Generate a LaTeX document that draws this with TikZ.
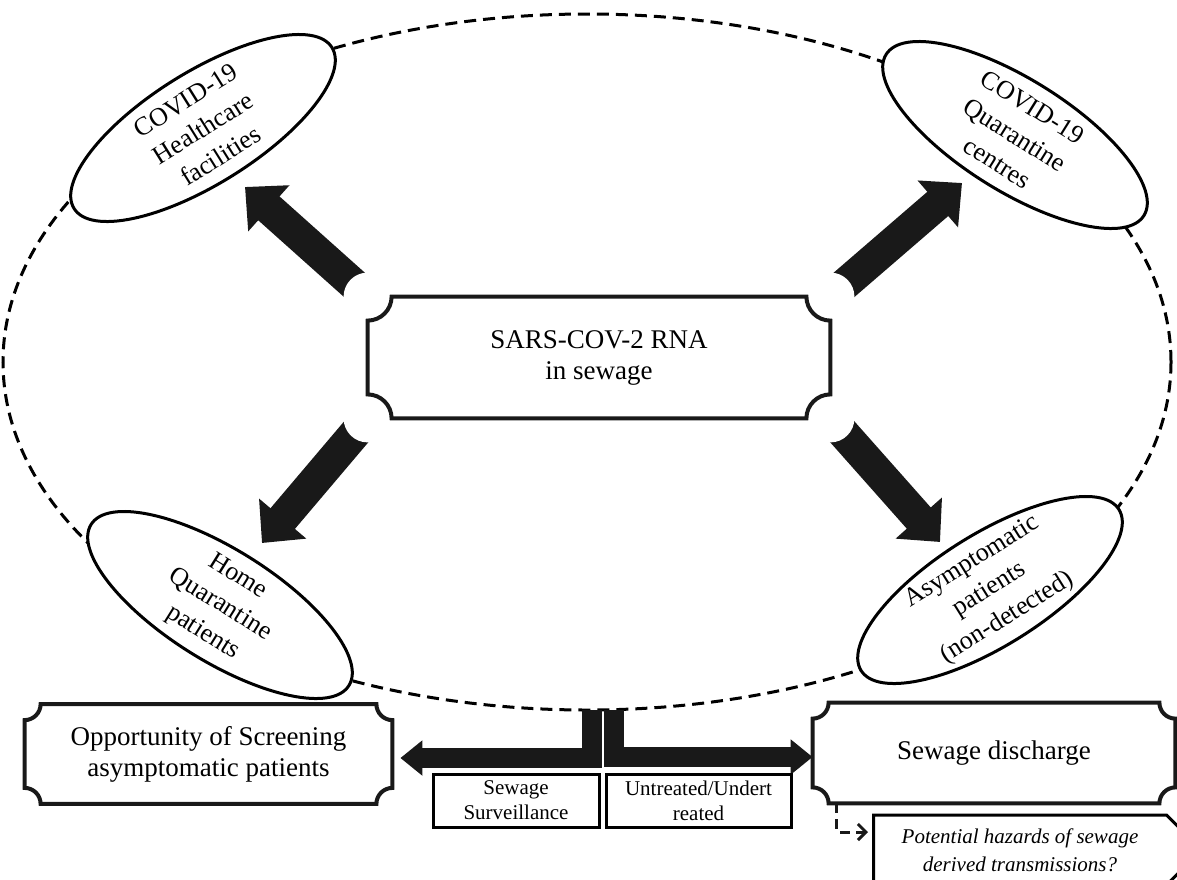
\documentclass[tikz,border=0pt]{standalone}
\usepackage{fontspec}
\setmainfont{Liberation Serif}
\usetikzlibrary{arrows.meta,calc,positioning,shapes.geometric,shapes.symbols}

% rectangle outline with scooped (concave) corners round a named node
\newcommand{\scoopframe}[2]{%
  \draw[line width=2pt, black!90]
    ($(#1.north west)+(#2,0pt)$) -- ($(#1.north east)+(-#2,0pt)$)
    arc[start angle=180, end angle=270, radius=#2]
    -- ($(#1.south east)+(0pt,#2)$)
    arc[start angle=90, end angle=180, radius=#2]
    -- ($(#1.south west)+(#2,0pt)$)
    arc[start angle=0, end angle=90, radius=#2]
    -- ($(#1.north west)+(0pt,-#2)$)
    arc[start angle=270, end angle=360, radius=#2] -- cycle;}

\begin{document}
\begin{tikzpicture}[x=0.5pt,y=-0.5pt]
	\tikzstyle{oval} = [draw, ellipse, fill=white, line width=1.5pt, inner sep=0pt, minimum width=152pt, minimum height=56pt]
	\tikzstyle{ovaltext} = [align=center, font=\fontsize{13}{16.5}\selectfont]
	\tikzstyle{block} = [align=center, inner sep=0pt, font=\fontsize{13.5}{15.5}\selectfont]
	\tikzstyle{smallbox} = [draw, line width=1.5pt, align=center, inner sep=0pt, minimum width=83pt, minimum height=26.5pt, font=\fontsize{10.5}{12.5}\selectfont]
	\tikzstyle{fatarrow} = [black!90, line width=16pt, -{Triangle[length=16pt,width=30pt]}]
	\tikzstyle{teearrow} = [black!90, line width=10pt, -{Triangle[length=11pt,width=17pt]}]
	\tikzstyle{dasharrow} = [black!90, line width=1.5pt, dash pattern=on 5pt off 3pt, -{Straight Barb[length=4pt,width=8pt]}]

	\useasboundingbox (0,0) rectangle (1177,879);

	% dashed ring round the sources
	\node [draw, ellipse, line width=1.5pt, dash pattern=on 6pt off 3.5pt, minimum width=584pt, minimum height=348pt] (ring) at (587,362) {};

	% sources
	\node [oval, rotate=32] (hc) at (203,128) {};
	\node [ovaltext, rotate=32] (hctext) at (hc) {COVID-19\\Healthcare\\facilities};
	\node [oval, rotate=-32] (qc) at (1015,135) {};
	\node [ovaltext, rotate=-32] (qctext) at (qc) {COVID-19\\Quarantine\\centres};
	\node [oval, rotate=-32] (hq) at (220,605) {};
	\node [ovaltext, rotate=-32] (hqtext) at (hq) {Home\\Quarantine\\patients};
	\node [oval, rotate=32] (ap) at (990,590) {};
	\node [ovaltext, rotate=32] (aptext) at (ap) {Asymptomatic\\patients\\(non-detected)};

	% centre
	\node [block, minimum width=231pt, minimum height=60.5pt] (sars) at (599,357.5) {SARS-COV-2 RNA\\in sewage};

	\coordinate (hctip) at (245,187);
	\coordinate (qctip) at (962,183);
	\coordinate (hqtip) at (262,543);
	\coordinate (aptip) at (940,542);
	\draw [fatarrow] (sars.north west) -- (hctip);
	\draw [fatarrow] (sars.north east) -- (qctip);
	\draw [fatarrow] (sars.south west) -- (hqtip);
	\draw [fatarrow] (sars.south east) -- (aptip);

	\foreach \c in {north west, north east, south west, south east}
		\fill [white] (sars.\c) circle [radius=12pt];
	\scoopframe{sars}{12pt}

	% outcomes
	\node [block, minimum width=183.5pt, minimum height=49.5pt] (opp) at (208.5,754) {Opportunity of Screening\\asymptomatic patients};
	\scoopframe{opp}{8pt}
	\node [block, minimum width=181pt, minimum height=50pt] (dis) at (994,753) {Sewage discharge};
	\scoopframe{dis}{8pt}

	\coordinate (tee) at (603,710);
	\draw [teearrow, shorten >=4pt] ([xshift=-5.5pt]tee) |- ([yshift=-2pt]opp.east);
	\draw [teearrow] ([xshift=5.5pt]tee) |- ([yshift=-2pt]dis.west);

	\node [smallbox] (surv) at (516,800.5) {Sewage\\Surveillance};
	\node [smallbox, minimum width=92.5pt, right=2pt of surv] (untr) {Untreated/Undert\\reated};

	\node [draw, line width=1.5pt, signal, signal to=east, signal pointer angle=90, align=center, inner sep=2pt, minimum width=164pt, minimum height=35pt, font=\itshape\fontsize{10.5}{14}\selectfont] (haz) at (1020,850) {Potential hazards of sewage\\derived transmissions?};
	\draw [dasharrow, shorten >=2pt] ([xshift=12pt]dis.south west) |- ([yshift=9pt]haz.west);
\end{tikzpicture}
\end{document}
